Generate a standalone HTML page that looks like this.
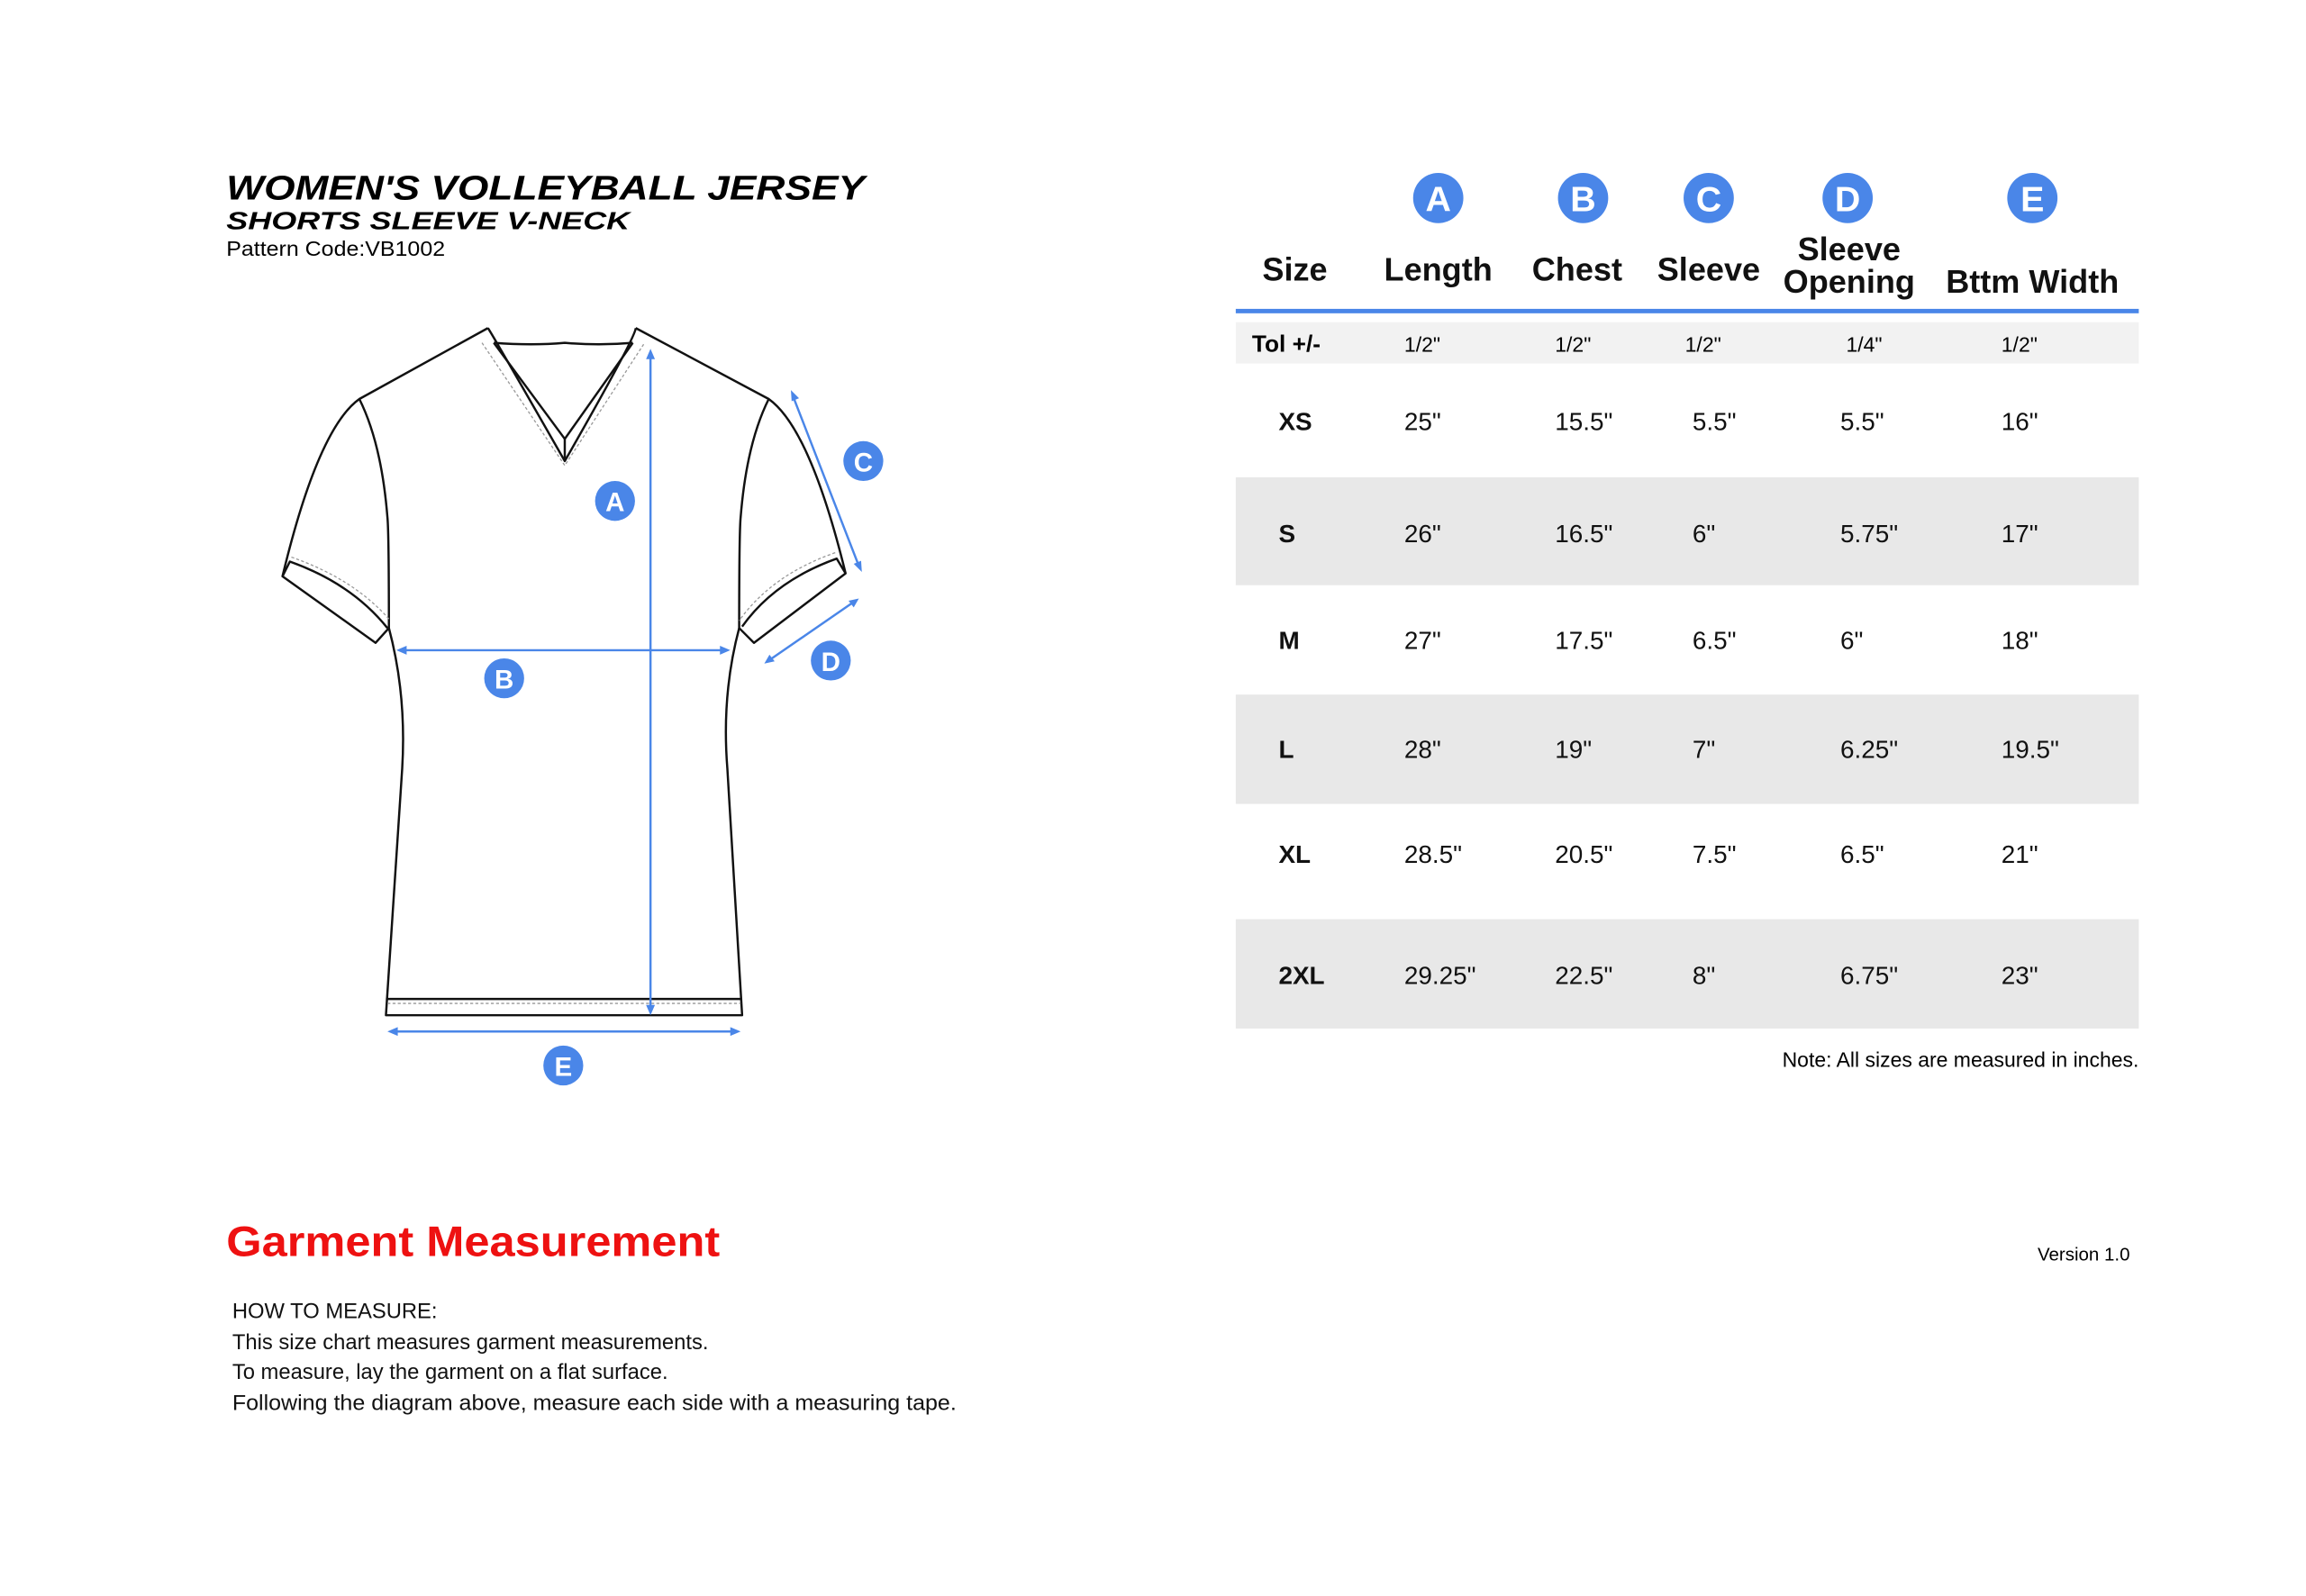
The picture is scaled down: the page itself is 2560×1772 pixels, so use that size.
<!DOCTYPE html>
<html><head><meta charset="utf-8"><style>html,body{margin:0;padding:0;background:#fff}svg{display:block}</style></head>
<body>
<svg width="2560" height="1772" viewBox="0 0 1560 1080" xmlns="http://www.w3.org/2000/svg" font-family="'Liberation Sans', sans-serif">
<rect width="1560" height="1080" fill="#fff"/>
<text x="153" y="135" font-size="23" font-weight="bold" font-style="italic" textLength="432" lengthAdjust="spacingAndGlyphs">WOMEN'S VOLLEYBALL JERSEY</text>
<text x="153" y="155" font-size="17" font-weight="bold" font-style="italic" textLength="273" lengthAdjust="spacingAndGlyphs">SHORTS SLEEVE V-NECK</text>
<text x="153" y="173" font-size="14" textLength="148" lengthAdjust="spacingAndGlyphs">Pattern Code:VB1002</text>

<!-- shirt -->
<g fill="none" stroke="#111" stroke-width="1.5" stroke-linejoin="round">
<path d="M330,222 L243,270 Q215,290 191,390 L254,435 L263,425 Q263,360 262,350 Q258,300 243,270"/>
<path d="M430,222 L520,270 Q548,290 572,388 L510,435 L500,425 Q500,360 501,350 Q505,300 520,270"/>
<path d="M263,425 Q275,470 272,520 L261,687 L502,687 L492,520 Q488,470 500,425"/>
<path d="M261,676 L502,676"/>
<path d="M330,222 Q334,228 382,312 Q430,228 430,222"/>
<path d="M334,232 Q360,234 382,232 Q405,234 428,232"/>
<path d="M334,232 L382,297 L428,232"/>
<path d="M382,297 L382,312"/>
<path d="M191,390 L196,380 Q238,395 262,425"/>
<path d="M572,388 L566,378 Q524,393 502,424"/>
</g>
<g fill="none" stroke="#999" stroke-width="0.8" stroke-dasharray="2,1.5">
<path d="M326,232 L382,315 L436,232"/>
<path d="M262,679 L501,679"/>
<path d="M197,377 Q240,392 264,420"/>
<path d="M565,374 Q522,389 500,420"/>
</g>
<g stroke="#4a86e8" stroke-width="1.5" fill="#4a86e8">
<line x1="440" y1="240" x2="440" y2="683"/>
<path d="M440,236 l-3,7 h6z M440,687 l-3,-7 h6z" stroke="none"/>
<line x1="272" y1="440" x2="490" y2="440"/>
<path d="M268,440 l7,-3 v6z M494,440 l-7,-3 v6z" stroke="none"/>
<line x1="536" y1="267" x2="581" y2="383"/>
<path d="M535,264 l0.5,7.5 l5,-2z M583,387 l-0.5,-7.5 l-5,2z" stroke="none"/>
<line x1="578" y1="407" x2="520" y2="447"/>
<path d="M581,405 l-7,1.5 l3.5,4.5z M517,449 l7,-1.5 l-3.5,-4.5z" stroke="none"/>
<line x1="266" y1="698" x2="497" y2="698"/>
<path d="M262,698 l7,-3 v6z M501,698 l-7,-3 v6z" stroke="none"/>
</g>
<g fill="#4a86e8">
<circle cx="416" cy="339" r="13.5"/><circle cx="341" cy="459" r="13.5"/><circle cx="584" cy="312" r="13.5"/><circle cx="562" cy="447" r="13.5"/><circle cx="381" cy="721" r="13.5"/>
<circle cx="973" cy="134" r="17"/><circle cx="1071" cy="134" r="17"/><circle cx="1156" cy="134" r="17"/><circle cx="1250" cy="134" r="17"/><circle cx="1375" cy="134" r="17"/>
</g>
<g fill="#fff" font-weight="bold" text-anchor="middle" font-size="18">
<text x="416" y="346">A</text><text x="341" y="466">B</text><text x="584" y="319">C</text><text x="562" y="454">D</text><text x="381" y="728">E</text>
</g>
<g fill="#fff" font-weight="bold" text-anchor="middle" font-size="24">
<text x="973" y="143">A</text><text x="1071" y="143">B</text><text x="1156" y="143">C</text><text x="1250" y="143">D</text><text x="1375" y="143">E</text>
</g>

<!-- table -->
<g font-weight="bold" font-size="22" text-anchor="middle" fill="#111">
<text x="876" y="190">Size</text><text x="973" y="190">Length</text><text x="1067" y="190">Chest</text><text x="1156" y="190">Sleeve</text>
<text x="1251" y="176">Sleeve</text><text x="1251" y="198">Opening</text><text x="1375" y="198">Bttm Width</text>
</g>
<rect x="836" y="209" width="611" height="3" fill="#4a86e8"/>
<rect x="836" y="218" width="611" height="28" fill="#f2f2f2"/>
<rect x="836" y="323" width="611" height="73" fill="#e8e8e8"/>
<rect x="836" y="470" width="611" height="74" fill="#e8e8e8"/>
<rect x="836" y="622" width="611" height="74" fill="#e8e8e8"/>
<text x="847" y="238" font-size="16" font-weight="bold">Tol +/-</text>
<g font-size="14"><text x="950" y="238">1/2"</text><text x="1052" y="238">1/2"</text><text x="1140" y="238">1/2"</text><text x="1249" y="238">1/4"</text><text x="1354" y="238">1/2"</text></g>
<g font-size="17" fill="#111">
<g font-weight="bold"><text x="865" y="291">XS</text><text x="865" y="367">S</text><text x="865" y="439">M</text><text x="865" y="513">L</text><text x="865" y="584">XL</text><text x="865" y="666">2XL</text></g>
<text x="950" y="291">25"</text><text x="1052" y="291">15.5"</text><text x="1145" y="291">5.5"</text><text x="1245" y="291">5.5"</text><text x="1354" y="291">16"</text>
<text x="950" y="367">26"</text><text x="1052" y="367">16.5"</text><text x="1145" y="367">6"</text><text x="1245" y="367">5.75"</text><text x="1354" y="367">17"</text>
<text x="950" y="439">27"</text><text x="1052" y="439">17.5"</text><text x="1145" y="439">6.5"</text><text x="1245" y="439">6"</text><text x="1354" y="439">18"</text>
<text x="950" y="513">28"</text><text x="1052" y="513">19"</text><text x="1145" y="513">7"</text><text x="1245" y="513">6.25"</text><text x="1354" y="513">19.5"</text>
<text x="950" y="584">28.5"</text><text x="1052" y="584">20.5"</text><text x="1145" y="584">7.5"</text><text x="1245" y="584">6.5"</text><text x="1354" y="584">21"</text>
<text x="950" y="666">29.25"</text><text x="1052" y="666">22.5"</text><text x="1145" y="666">8"</text><text x="1245" y="666">6.75"</text><text x="1354" y="666">23"</text>
</g>
<text x="1447" y="722" font-size="14" text-anchor="end">Note: All sizes are measured in inches.</text>
<text x="1441" y="853" font-size="12.5" text-anchor="end">Version 1.0</text>

<text x="153" y="850" font-size="29" font-weight="bold" fill="#ee1111" textLength="334" lengthAdjust="spacingAndGlyphs">Garment Measurement</text>
<g font-size="14.5" fill="#111">
<text x="157" y="892">HOW TO MEASURE:</text>
<text x="157" y="913">This size chart measures garment measurements.</text>
<text x="157" y="933">To measure, lay the garment on a flat surface.</text>
<text x="157" y="954" textLength="490" lengthAdjust="spacingAndGlyphs">Following the diagram above, measure each side with a measuring tape.</text>
</g>
</svg>
</body></html>
